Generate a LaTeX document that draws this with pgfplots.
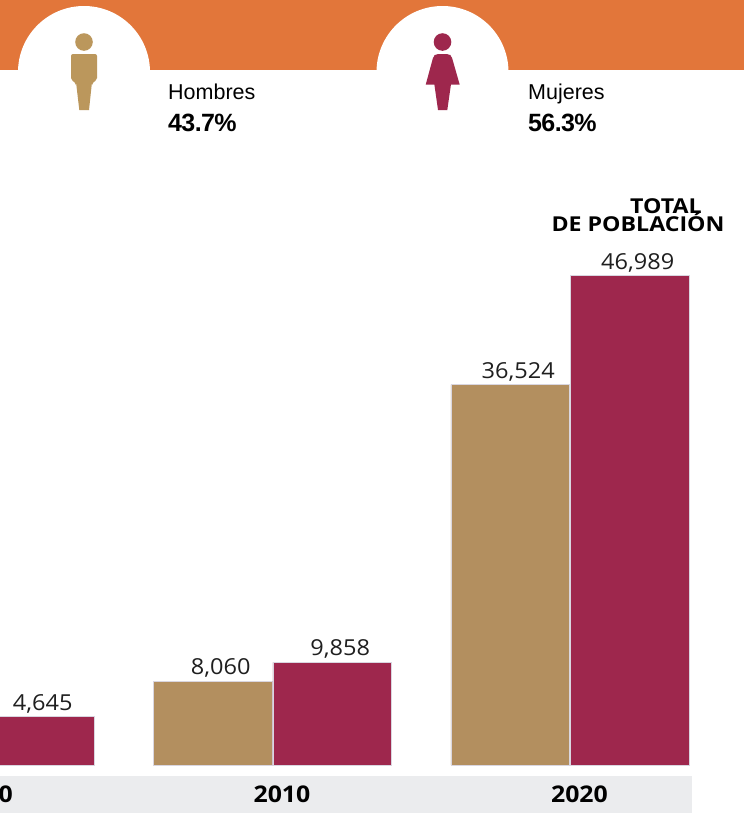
\documentclass[border=0pt]{standalone}
\usepackage{fontspec}
\setmainfont{Open Sans}
\newfontfamily\etiq[FakeStretch=1.07]{Open Sans}
\newfontfamily\anio[FakeStretch=1.08]{Open Sans}
\newfontfamily\titulo[FakeStretch=1.13]{Open Sans}
\newfontfamily\rob{Liberation Sans}
\newfontfamily\robb[LetterSpace=-2.5]{Liberation Sans}
\usepackage{pgfplots}
\pgfplotsset{compat=1.18}
\definecolor{banda}{HTML}{E2763A}
\definecolor{gris}{HTML}{EBECEE}
\definecolor{hombre}{HTML}{B38F5F}
\definecolor{hombreicon}{HTML}{BB975C}
\definecolor{mujer}{HTML}{9E274D}
\definecolor{borde}{HTML}{D9D6E0}
\begin{document}
\begin{tikzpicture}
\path[use as bounding box,clip] (0pt,0pt) rectangle (744pt,-814pt);
\begin{scope}[x=1pt,y=-1pt]
  % header band and icon discs
  \fill[banda] (0,0) rectangle (744,70);
  \fill[white] (84,72) circle (66);
  \fill[white] (442.5,72) circle (66);
  \fill[white] (0,70) rectangle (744,140);
  % man
  \fill[hombreicon] (84,42) circle (8.8);
  \fill[hombreicon,rounded corners=2pt] (71,54) -- (97,54) -- (97,80) -- (92,83) -- (92,84) -- (76,84) -- (76,83) -- (71,80) -- cycle;
  \fill[hombreicon] (76,82) -- (92,82) -- (89,110) -- (79.3,110) -- cycle;
  % woman
  \fill[mujer] (442.5,42) circle (8.8);
  \fill[mujer] (425.7,84.7) [rounded corners=2pt] -- (433.5,56) -- (436,54) -- (449,54) -- (451.5,56) [sharp corners] -- (459.7,84.7) -- cycle;
  \fill[mujer] (434.3,84) -- (451,84) -- (447.3,110) -- (438,110) -- cycle;
  % header texts
  \node[anchor=base west,inner sep=0pt] at (168,99) {\rob\fontsize{21.5}{24}\selectfont Hombres};
  \node[anchor=base west,inner sep=0pt] at (168,131) {\robb\bfseries\fontsize{25}{28}\selectfont 43.7\%};
  \node[anchor=base west,inner sep=0pt] at (528,99) {\rob\fontsize{21.5}{24}\selectfont Mujeres};
  \node[anchor=base west,inner sep=0pt] at (528,131) {\robb\bfseries\fontsize{25}{28}\selectfont 56.3\%};
  % total title
  \node[anchor=base,inner sep=0pt] at (666,213) {\titulo\bfseries\fontsize{20.5}{22}\selectfont TOTAL};
  \node[anchor=base,inner sep=0pt] at (638,231) {\titulo\bfseries\fontsize{20.5}{22}\selectfont DE POBLACIÓN};
  % year strip
  \fill[gris] (0,776) rectangle (692,813);
\end{scope}
\begin{axis}[
  at={(-322.5pt,-765pt)},anchor=south west,
  scale only axis,width=1190pt,height=625pt,
  xmin=1990,xmax=2030,ymin=0,ymax=60000,
  clip=false,
  axis line style={draw=none},
  major tick length=0pt,
  ytick=\empty,
  xtick={2000,2010,2020},
  xticklabels={2000,2010,2020},
  xticklabel style={font=\anio\bfseries\fontsize{23}{26}\selectfont,xshift=9.5pt,yshift=-17pt},
  ybar=1pt,bar width=118.5pt,
  /pgf/number format/assume math mode=true,
  /pgf/number format/1000 sep={,},
  nodes near coords,
  every node near coord/.append style={font=\etiq\fontsize{22}{24}\selectfont,color=black!88,xshift=8pt,yshift=0pt},
]
\addplot[fill=hombre,draw=borde,line width=0.7pt] coordinates {(2010,8060)(2020,36524)};
\addplot[fill=mujer,draw=borde,line width=0.7pt] coordinates {(2000,4645)(2010,9858)(2020,46989)};
\end{axis}
\end{tikzpicture}
\end{document}
